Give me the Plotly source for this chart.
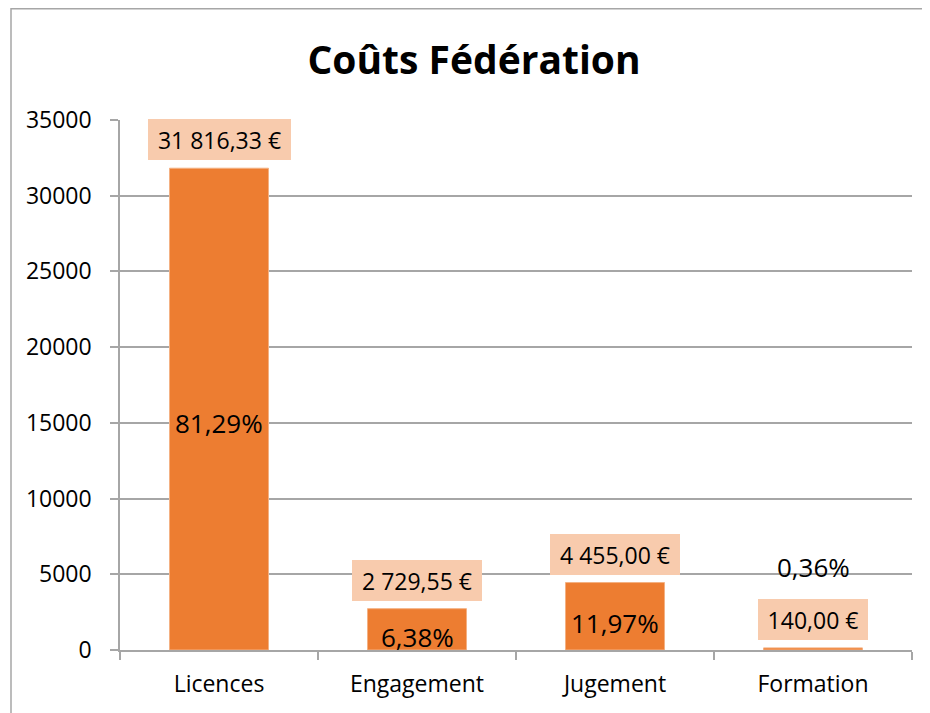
import plotly.graph_objects as go

# ---- data ----
categories = ["Licences", "Engagement", "Jugement", "Formation"]
costs = [31816.33, 2729.55, 4455.00, 140.00]
cost_labels = ["31 816,33 €", "2 729,55 €", "4 455,00 €", "140,00 €"]
pct_labels = ["81,29%", "6,38%", "11,97%", "0,36%"]
y_ticks = [0, 5000, 10000, 15000, 20000, 25000, 30000, 35000]
title_text = "Coûts Fédération"

# ---- styling / layout ----
FONT = "Open Sans, Lato, sans-serif"
BAR = "#ED7D31"
BOX = "#F8CBAD"
GRID = "#A6A6A6"
pct_y = [15000, 860, 1780, 5480]      # label placement (as in the original chart)
box_w = [135, 122, 122, 102]          # label box widths

# figure geometry (page is offset by the 8px body margin)
L, T, PW, PH = 112, 112, 792, 530
W, H = 930, 713

fig = go.Figure()
fig.add_trace(go.Bar(
    x=categories, y=costs, width=0.5,
    marker=dict(color=BAR, line=dict(color="#F4B183", width=1)),
    hoverinfo="skip", showlegend=False,
))

annotations = []
for c, v, lab, bw in zip(categories, costs, cost_labels, box_w):
    annotations.append(dict(
        x=c, y=v, xref="x", yref="y", text=lab, showarrow=False,
        yanchor="bottom", yshift=8, bgcolor=BOX, borderpad=4, borderwidth=0,
        width=bw, height=33, align="center", valign="middle",
        font=dict(family=FONT, size=23, color="#000000"),
    ))
for c, yv, lab in zip(categories, pct_y, pct_labels):
    annotations.append(dict(
        x=c, y=yv, xref="x", yref="y", text=lab, showarrow=False,
        yanchor="middle", font=dict(family=FONT, size=26, color="#000000"),
    ))

fig.update_layout(
    width=W, height=H,
    margin=dict(l=L, r=W - L - PW, t=T, b=H - T - PH, autoexpand=False),
    paper_bgcolor="white", plot_bgcolor="white",
    font=dict(family=FONT, color="#000000"),
    title=dict(text="<b>" + title_text + "</b>", x=466 / W, xanchor="center",
               y=1 - 52 / H, yanchor="middle", xref="container", yref="container",
               font=dict(family=FONT, size=39, color="#000000")),
    annotations=annotations,
    shapes=[dict(type="rect", xref="paper", yref="paper",
                 x0=(3 - L) / PW, x1=(W + 20 - L) / PW,
                 y0=(T + PH - (H + 20)) / PH, y1=(T + PH - 0.75) / PH,
                 line=dict(color=GRID, width=1.5), fillcolor="rgba(0,0,0,0)",
                 layer="below")],
)
fig.update_xaxes(
    showline=True, linecolor=GRID, linewidth=1.5,
    ticks="outside", tickson="boundaries", ticklen=8, tickcolor=GRID, tickwidth=1.5,
    tickfont=dict(family=FONT, size=23, color="#000000"),
    ticklabelstandoff=13, showgrid=False, automargin=False,
)
fig.update_yaxes(
    range=[0, 35000], tickvals=y_ticks, ticktext=[str(t) for t in y_ticks],
    showline=True, linecolor=GRID, linewidth=1.5,
    ticks="outside", ticklen=8, tickcolor=GRID, tickwidth=1.5,
    showgrid=True, gridcolor=GRID, gridwidth=1.5, zeroline=False,
    tickfont=dict(family=FONT, size=23, color="#000000"),
    ticklabelstandoff=14, automargin=False,
)

fig.write_html("out.html")
